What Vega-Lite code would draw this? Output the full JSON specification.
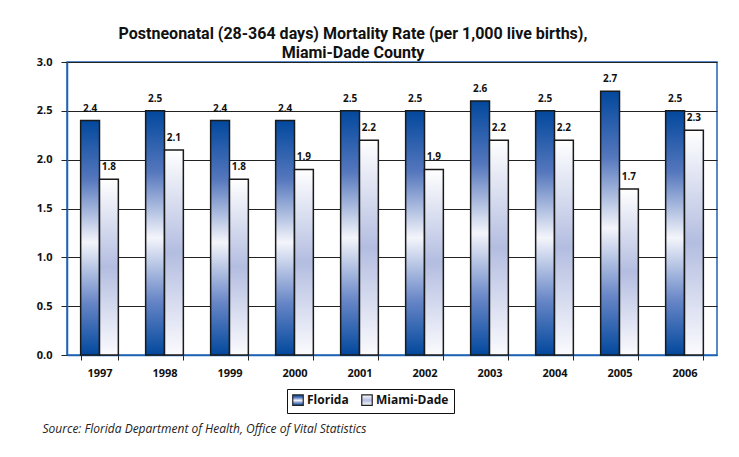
{
  "$schema": "https://vega.github.io/schema/vega-lite/v6.json",
  "autosize": {"type": "none"},
  "width": 650,
  "height": 293,
  "padding": {"left": 67, "top": 62, "right": 22, "bottom": 102},
  "background": "white",
  "title": {
    "text": ["Postneonatal (28-364 days) Mortality Rate (per 1,000 live births),", "Miami-Dade County"],
    "font": "Roboto",
    "fontSize": 16,
    "fontWeight": "bold",
    "color": "#111111",
    "anchor": "middle",
    "dx": -39,
    "offset": -5,
    "lineHeight": 19
  },
  "data": {
    "values": [
      {"year": "1997", "series": "Florida", "rate": 2.4},
      {"year": "1997", "series": "Miami-Dade", "rate": 1.8},
      {"year": "1998", "series": "Florida", "rate": 2.5},
      {"year": "1998", "series": "Miami-Dade", "rate": 2.1},
      {"year": "1999", "series": "Florida", "rate": 2.4},
      {"year": "1999", "series": "Miami-Dade", "rate": 1.8},
      {"year": "2000", "series": "Florida", "rate": 2.4},
      {"year": "2000", "series": "Miami-Dade", "rate": 1.9},
      {"year": "2001", "series": "Florida", "rate": 2.5},
      {"year": "2001", "series": "Miami-Dade", "rate": 2.2},
      {"year": "2002", "series": "Florida", "rate": 2.5},
      {"year": "2002", "series": "Miami-Dade", "rate": 1.9},
      {"year": "2003", "series": "Florida", "rate": 2.6},
      {"year": "2003", "series": "Miami-Dade", "rate": 2.2},
      {"year": "2004", "series": "Florida", "rate": 2.5},
      {"year": "2004", "series": "Miami-Dade", "rate": 2.2},
      {"year": "2005", "series": "Florida", "rate": 2.7},
      {"year": "2005", "series": "Miami-Dade", "rate": 1.7},
      {"year": "2006", "series": "Florida", "rate": 2.5},
      {"year": "2006", "series": "Miami-Dade", "rate": 2.3}
    ]
  },
  "encoding": {
    "x": {
      "field": "year",
      "type": "nominal",
      "scale": {"paddingInner": 0.42, "paddingOuter": 0.21},
      "axis": {
        "title": "Source: Florida Department of Health, Office of Vital Statistics",
        "titleFont": "Open Sans",
        "titleFontStyle": "italic",
        "titleFontWeight": "normal",
        "titleFontSize": 12,
        "titleColor": "#222222",
        "titleX": -25,
        "titleY": 77,
        "titleAlign": "left",
        "titleAnchor": "start",
        "titleBaseline": "alphabetic",
        "labelAngle": 0,
        "labelFont": "Open Sans",
        "labelFontWeight": "bold",
        "labelFontSize": 11,
        "labelColor": "#111111",
        "labelPadding": 7,
        "tickBand": "extent",
        "tickColor": "#222222",
        "tickSize": 5,
        "domainColor": "#1f63b5",
        "domainWidth": 1.5,
        "grid": false
      }
    },
    "xOffset": {"field": "series", "type": "nominal", "scale": {"paddingInner": 0, "paddingOuter": 0}},
    "y": {
      "field": "rate",
      "type": "quantitative",
      "scale": {"domain": [0, 3]},
      "axis": {
        "title": null,
        "values": [0, 0.5, 1, 1.5, 2, 2.5, 3],
        "format": ".1f",
        "labelFont": "Open Sans",
        "labelFontWeight": "bold",
        "labelFontSize": 11,
        "labelColor": "#111111",
        "labelPadding": 9,
        "tickColor": "#222222",
        "tickSize": 6,
        "domainColor": "#1f63b5",
        "domainWidth": 1.5,
        "gridColor": "#222222",
        "gridWidth": 1
      }
    }
  },
  "layer": [
    {
      "mark": {"type": "bar", "strokeWidth": 1.5, "stroke": "#1a1a1a"},
      "encoding": {
        "fill": {
          "field": "series",
          "type": "nominal",
          "scale": {
            "domain": ["Florida", "Miami-Dade"],
            "range": [
              {"expr": "{gradient: 'linear', x1: 0, y1: 0, x2: 0, y2: 1, stops: [{offset: 0, color: '#02489d'}, {offset: 0.25, color: '#5577bd'}, {offset: 0.52, color: '#f4f5fb'}, {offset: 0.78, color: '#6685c6'}, {offset: 1, color: '#02489d'}]}"},
              {"expr": "{gradient: 'linear', x1: 0, y1: 0, x2: 0, y2: 1, stops: [{offset: 0, color: '#ffffff'}, {offset: 0.5, color: '#b3bde0'}, {offset: 1, color: '#fbfbfe'}]}"}
            ]
          },
          "legend": {
            "title": null,
            "orient": "none",
            "direction": "horizontal",
            "legendX": 220,
            "legendY": 327,
            "padding": 5,
            "strokeColor": "#111111",
            "fillColor": "white",
            "symbolType": "square",
            "symbolSize": 110,
            "symbolStrokeColor": "#222222",
            "symbolStrokeWidth": 1.2,
            "labelFont": "Open Sans",
            "labelFontWeight": "bold",
            "labelFontSize": 12,
            "labelColor": "#111111",
            "columnPadding": 10,
            "labelOffset": 3
          }
        }
      }
    },
    {
      "mark": {"type": "text", "dy": -12, "font": "Open Sans", "fontWeight": "bold", "fontSize": 10, "color": "#111111"},
      "encoding": {
        "text": {"field": "rate", "type": "quantitative", "format": ".1f"}
      }
    }
  ],
  "config": {
    "view": {"stroke": "#1f63b5", "strokeWidth": 1.5},
    "axis": {"gridOpacity": 1}
  }
}
